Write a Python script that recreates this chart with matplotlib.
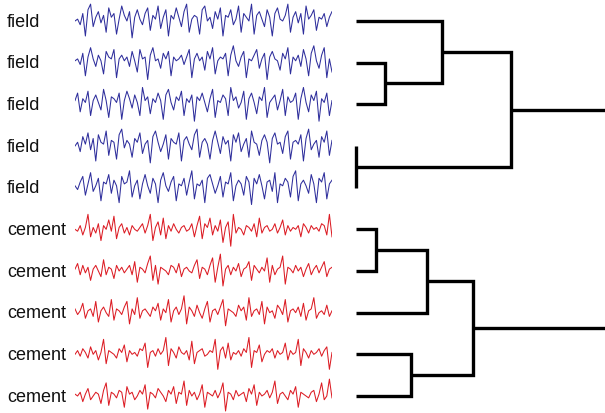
import numpy as np
import matplotlib
matplotlib.use("Agg")
import matplotlib.pyplot as plt
import matplotlib.transforms as mtransforms

labels = ["field"] * 5 + ["cement"] * 5

# traces, arbitrary units
field_1 = [0, 1, -2, 4, -8, 6, 9, -3, 2, 5,
           -1, 3, -6, 7, 2, 4, -7, 1, 8, 3,
           0, 5, -9, 2, 6, 1, -2, 4, 7, -5,
           3, 1, 8, -4, 2, 6, -8, 3, 1, 7,
           2, -3, 5, 9, -6, 1, 3, 2, -7, 6,
           8, 0, 2, -4, 5, 1, 7, -8, 3, 2,
           6, -2, 1, 8, -6, 4, 2, 0, 9, -7,
           3, 5, 1, -3, 6, 2, -8, 4, 7, 1,
           0, 3, 9, -6, 2, 5, -1, 4, -7, 8,
           1, 3, 6, -5, 2, 1, 4, -3, 2, 5]
field_2 = [1, 2, -1, 5, -7, 3, 8, 2, -2, 4,
           1, -6, 6, 3, 2, 7, -8, 2, 4, 1,
           3, -2, 6, 1, -5, 7, 2, 3, -9, 4,
           8, 1, 2, -3, 5, 2, 6, -7, 3, 1,
           2, 4, -1, 3, 7, -8, 2, 5, 1, 3,
           -4, 6, 2, 8, -6, 1, 3, 2, 5, -7,
           4, 9, 1, -2, 3, 6, -8, 2, 1, 4,
           7, -3, 2, 5, -9, 3, 6, 2, 1, -4,
           5, 2, 8, -6, 3, 1, 4, -2, 7, 2,
           -7, 5, 9, 1, -3, 4, 8, -8, 2, -5]
field_3 = [2, 6, -4, 3, 1, 7, -6, 2, 5, 1,
           -3, 8, 2, -7, 4, 3, 1, 6, -8, 2,
           7, 3, -2, 5, 1, -6, 9, 2, 4, -5,
           3, 1, 6, 2, -8, 5, 8, 1, -3, 4,
           2, 7, -6, 3, 1, 5, -9, 4, 2, 6,
           1, -4, 3, 8, -7, 2, 1, 5, 3, -6,
           9, 2, 4, -2, 1, 7, -8, 3, 6, 1,
           -5, 4, 2, 9, -7, 1, 3, 5, -3, 2,
           8, -6, 4, 1, 2, 6, -8, 3, 9, 1,
           -4, 5, 2, 7, -9, 3, 1, 6, -6, 2]
field_4 = [0, 2, -3, 5, 1, 7, -2, 4, -8, 6,
           2, 1, 8, -5, 3, 2, -7, 6, 9, -1,
           3, 1, -6, 4, 2, 7, -4, 1, 3, -9,
           5, 8, 2, -3, 1, 6, -7, 4, 2, 1,
           7, -8, 3, 5, 1, -2, 6, 9, -6, 2,
           4, 1, -7, 3, 8, 2, -4, 5, 1, 3,
           -8, 6, 2, 7, -3, 1, 4, -6, 8, 2,
           1, -5, 3, 6, 2, -9, 4, 7, 1, 2,
           -4, 5, 8, -7, 2, 3, 1, 6, -8, 4,
           9, -2, 1, 3, -6, 5, 2, 8, -5, 3]
field_5 = [1, -1, 3, 6, -4, 2, 8, -2, 1, 5,
           -7, 3, 2, 7, -3, 4, 1, -8, 6, 2,
           3, 9, -5, 1, 4, -6, 2, 7, 1, -3,
           5, 2, -8, 4, 8, 1, -2, 3, 6, -7,
           2, 1, 5, -4, 3, 9, -6, 2, 1, 4,
           -8, 5, 7, 2, -3, 1, 6, -5, 3, 2,
           8, -7, 1, 4, 2, -4, 6, 3, -9, 5,
           2, 7, 1, -6, 3, 4, -2, 8, -8, 2,
           1, 5, 3, -5, 6, 9, -7, 2, 4, 1,
           -3, 7, 2, -8, 5, 3, 8, -6, 2, 4]
cement_1 = [0, -1, 2, -3, 1, 8, -4, 1, -2, 3,
            -6, 2, 0, 5, -1, 7, -5, 1, 3, -2,
            1, -3, 2, 0, -1, 1, 3, -2, 2, 8,
            -6, 1, 4, -3, 6, -5, 2, -1, 3, 0,
            -2, 1, 2, -1, 0, 3, -4, 2, 7, -5,
            3, 1, 6, -3, 2, -1, 5, -7, 1, 4,
            -9, 8, -2, 1, 0, -3, 2, 1, -1, 3,
            -4, 6, -2, 1, 2, -1, 0, 3, -2, 1,
            5, -3, 2, -1, 1, 0, 2, -4, 3, 1,
            -2, 2, 0, 1, -1, 3, 2, -3, 8, -4]
cement_2 = [1, 4, -2, 3, -1, 2, -5, 1, 3, 0,
            -3, 6, -2, 2, 1, -4, 3, 0, 2, -1,
            1, 3, -2, 5, -6, 2, 1, -1, 4, 8,
            -5, 3, -7, 2, 1, 0, -2, 3, 2, -1,
            4, -3, 1, 2, 0, -1, 3, 6, -4, 2,
            1, -2, 3, 7, -6, 2, 9, -8, 1, 3,
            -2, 2, 0, 4, -3, 1, 2, 5, -5, 3,
            1, -1, 2, 0, 7, -6, 3, -2, 1, 2,
            8, -7, 2, 1, -1, 3, 0, 2, -3, 1,
            4, -2, 1, 3, -1, 2, 5, -3, 1, 2]
cement_3 = [2, -1, 1, 5, -3, 1, 2, -2, 6, -5,
            1, 3, 0, -2, 7, -4, 2, 1, -1, 3,
            6, -6, 2, -1, 8, -3, 1, 2, 0, -2,
            3, 1, 5, -4, 2, 0, 7, -5, 1, 3,
            -1, 2, 9, -6, 3, 1, -2, 4, 0, -3,
            2, 6, -5, 1, 2, -1, 3, 7, -7, 2,
            1, 0, -2, 4, 1, 3, -4, 8, -2, 1,
            2, -1, 6, -6, 3, 0, 1, -3, 4, 2,
            -1, 7, -5, 1, 2, 0, 3, -2, 5, -4,
            1, 2, 8, -3, 0, 1, -1, 4, -2, 1]
cement_4 = [0, 2, -1, 3, 1, -2, 4, 0, 2, -3,
            1, 8, -5, 2, 1, 0, -2, 3, 1, 5,
            -4, 2, 0, 1, -1, 3, 2, 6, -7, 1,
            2, -1, 3, 0, 2, 9, -6, 3, 1, -2,
            4, 1, 0, 2, -3, 7, -5, 1, 2, 3,
            -1, 0, 2, 1, 8, -8, 2, 4, -2, 6,
            -3, 1, 0, 2, -1, 3, 1, 9, -7, 2,
            1, 5, -4, 0, 2, 1, 3, -2, 2, 0,
            1, 6, -3, 2, 0, 1, 8, -6, 3, 1,
            -2, 2, 0, 1, 3, -1, 2, 4, -8, 1]
cement_5 = [1, 0, 2, -3, 1, 4, -2, 0, 2, 1,
            -4, 3, 7, -5, 2, 1, -1, 3, 2, -6,
            5, 1, 2, -2, 0, 3, 1, 6, -7, 2,
            1, -1, 4, 2, 0, -3, 3, 1, 5, -4,
            2, 1, 8, -5, 3, 0, 2, -2, 1, 6,
            -6, 2, 1, 0, 3, -1, 2, 7, -8, 2,
            1, -2, 3, 0, 1, 2, -3, 4, 1, 6,
            -5, 2, 0, 1, 3, -1, 2, 8, -4, 1,
            2, 0, -2, 3, 1, 5, -6, 2, 1, 0,
            -1, 2, 3, -3, 1, 7, -2, 0, 9, -1]

traces = [field_1, field_2, field_3, field_4, field_5,
          cement_1, cement_2, cement_3, cement_4, cement_5]

# linkage: (left, right, distance); new cluster ids start at 10
merges = [(3, 4, 0.0),
          (1, 2, 29.0),
          (0, 11, 86.0),
          (12, 10, 155.0),
          (5, 6, 20.0),
          (14, 7, 71.0),
          (8, 9, 55.0),
          (15, 16, 117.0),
          (13, 17, 300.0)]

blue = "#2e2e9c"
red = "#dc1c24"

fig = plt.figure(figsize=(6.05, 4.13), dpi=100)
W, H = 605.0, 413.0

ylim = (9.0 + 17 / 41.67, -21 / 41.67)

ax = fig.add_axes([75 / W, 0, 257 / W, 1])
scale = 0.045
for i, tr in enumerate(traces):
    v = np.array(tr, dtype=float)
    col = blue if labels[i] == "field" else red
    ax.plot(np.arange(len(v)), i - v * scale, color=col, lw=0.75)
ax.set_xlim(0, 99)
ax.set_ylim(*ylim)
ax.axis("off")

tr_lab = mtransforms.blended_transform_factory(fig.transFigure, ax.transData)
for i, lab in enumerate(labels):
    ax.text(7 / W, i + 0.03, lab, transform=tr_lab, ha="left", va="center",
            fontsize=13, family="Liberation Sans", color="#111111")

# dendrogram
dax = fig.add_axes([340 / W, 0, 265 / W, 1])
pos = {i: (0.0, float(i)) for i in range(len(traces))}
for k, (a, b, d) in enumerate(merges):
    da, ya = pos[a]
    db, yb = pos[b]
    dax.plot([da, d, d, db], [ya, ya, yb, yb], color="black", lw=2.4,
             solid_joinstyle="miter", solid_capstyle="butt")
    pos[len(traces) + k] = (d, (ya + yb) / 2)
dax.set_xlim(-16, 249)
dax.set_ylim(*ylim)
dax.axis("off")

fig.savefig("out.png", dpi=100)
